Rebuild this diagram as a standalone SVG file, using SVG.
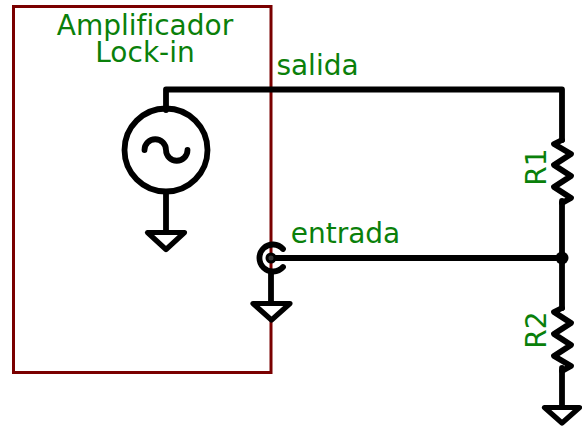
<svg xmlns="http://www.w3.org/2000/svg" width="582" height="426" viewBox="0 0 582 426">
<style>
.w{fill:none;stroke:#000;stroke-width:5.800;stroke-linejoin:round;stroke-linecap:round}
.g{fill:#fff;stroke:#000;stroke-width:5.200;stroke-linejoin:round}
text{font-family:"DejaVu Sans",sans-serif;font-size:28px;fill:#0a800a;text-anchor:middle;font-variant-ligatures:none}
</style>
<rect width="582" height="426" fill="#fff"/>
<g id="amplifier">
<rect x="13.500" y="6.500" width="257.500" height="366" fill="none" stroke="#7a0000" stroke-width="3"/>
<text x="145" y="34.500">Amplificador</text>
<text x="145" y="61.500">Lock-in</text>
</g>
<g id="connectors">
<path class="w" d="M166 110V89.500H562V140M562 201V308M562 368V405M166 192V232M271 258H562M271 273V303"/>
</g>
<g id="source">
<circle class="w" cx="166" cy="150" r="41.500"/>
<path class="w" d="M144.500 150A10.750 10.750 0 0 1 166 150A10.750 10.750 0 0 0 187.500 150" stroke-width="5"/>
<path class="g" d="M147.500 232.500H184.500L166 249.500Z"/>
</g>
<g id="input">
<path class="w" d="M283 249A13.500 13.500 0 1 0 283 267" stroke-linecap="butt"/>
<circle cx="271" cy="258" r="4" fill="#333" stroke="#000" stroke-width="3"/>
<path class="g" d="M253 303.500H290L271.500 320Z"/>
</g>
<g id="junction"><circle cx="562" cy="258" r="6.500" fill="#000"/></g>
<g id="R1">
<path class="w" d="M562 140L554 144L571 154L554 165L571 176L554 187L571 198L562 203"/>
<text transform="translate(546 167) rotate(-90)">R1</text>
</g>
<g id="R2">
<path class="w" d="M562 308L554 312L571 323L554 334L571 345L554 356L571 366L562 371"/>
<text transform="translate(546 330) rotate(-90)">R2</text>
</g>
<g id="ground"><path class="g" d="M544.500 407.500H579.500L562 423Z"/></g>
<text id="salida" x="317.500" y="75">salida</text>
<text id="entrada" x="345.500" y="243">entrada</text>
</svg>
